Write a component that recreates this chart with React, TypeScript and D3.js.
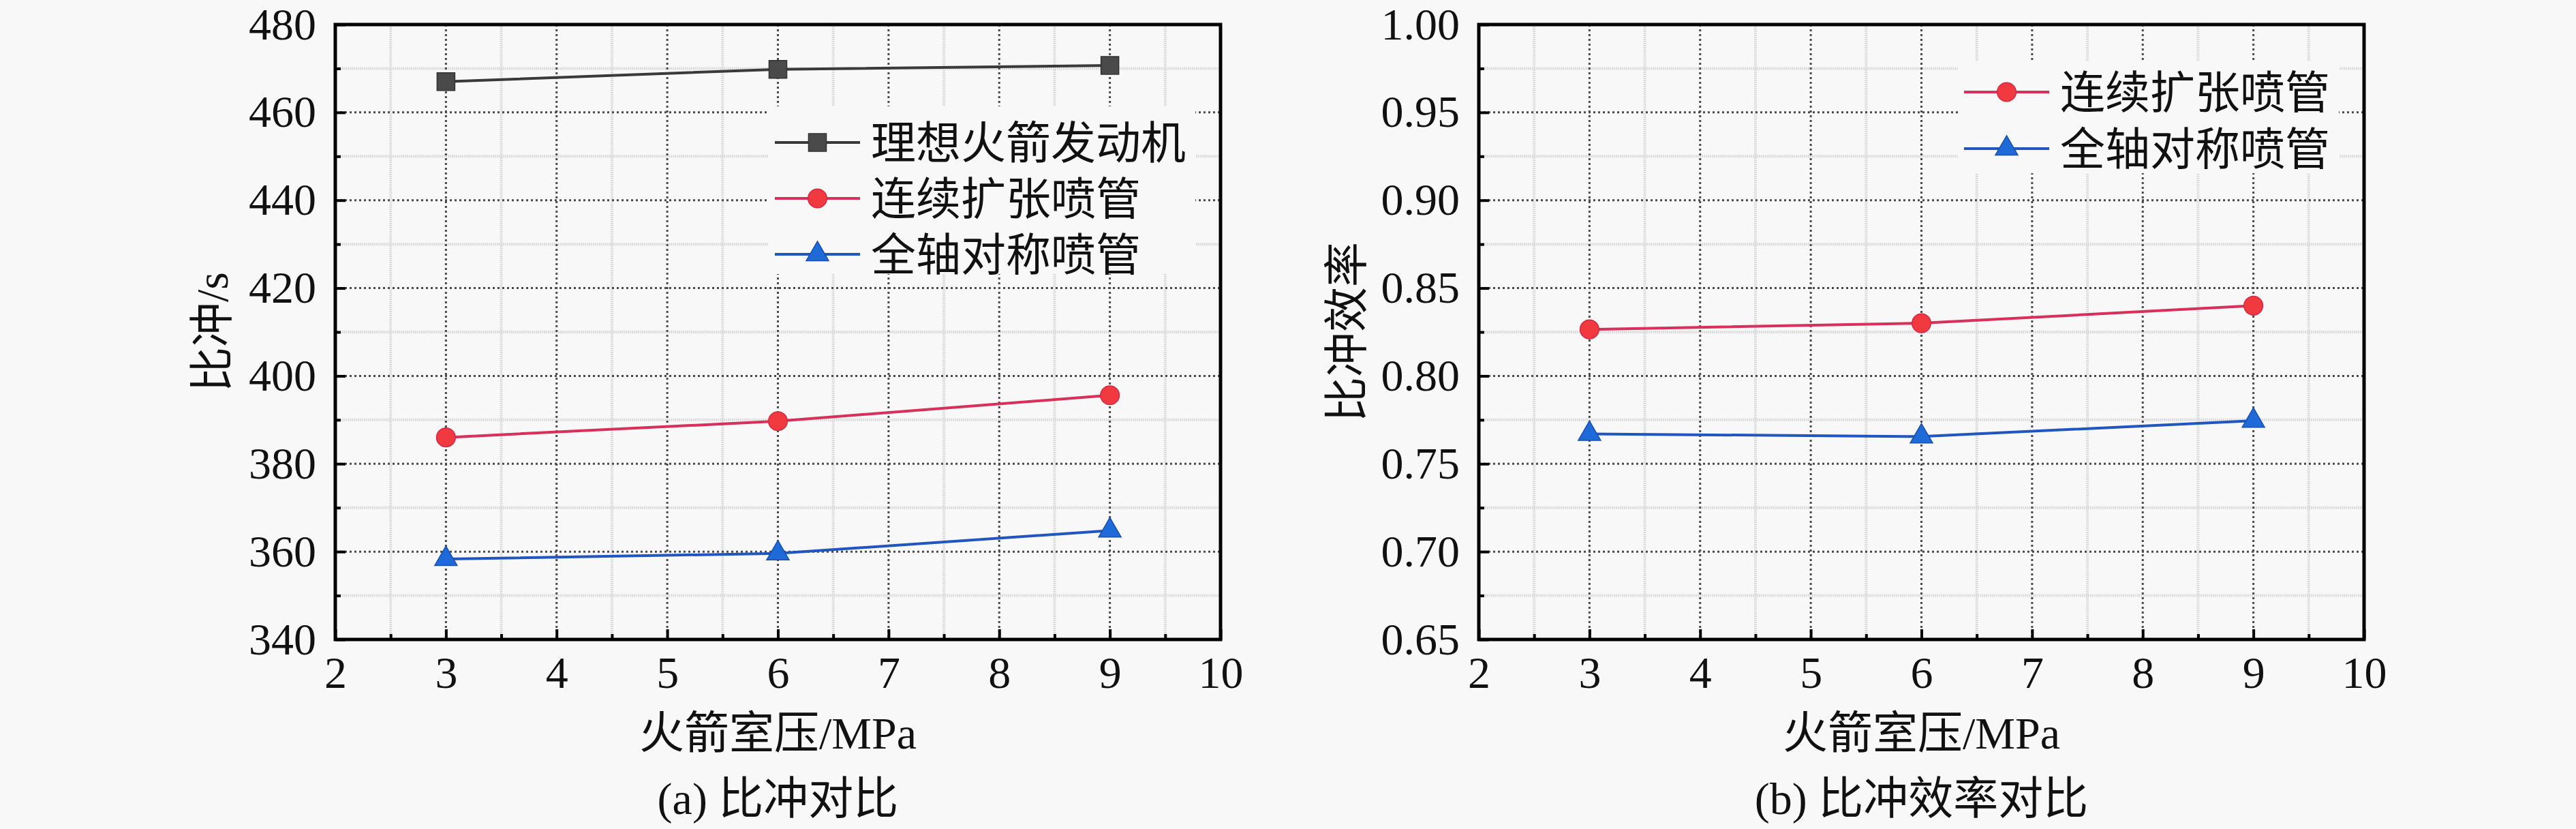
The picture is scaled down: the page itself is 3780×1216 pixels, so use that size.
import { useEffect, useRef } from "react";
import * as d3 from "d3";

const W = 3780;
const H = 1216;

// chamber pressure, MPa
const pressure = [3, 6, 9];

// (a) specific impulse, s
const idealIsp = [467.0, 469.8, 470.7];
const contIsp = [386.0, 389.7, 395.6];
const axisymIsp = [358.3, 359.6, 364.8];

// (b) specific impulse efficiency
const contEff = [0.8265, 0.83, 0.84];
const axisymEff = [0.767, 0.7655, 0.7745];

const xTicks = [2, 3, 4, 5, 6, 7, 8, 9, 10];
const xMinor = [2.5, 3.5, 4.5, 5.5, 6.5, 7.5, 8.5, 9.5];
const ispTicks = [340, 360, 380, 400, 420, 440, 460, 480];
const ispMinor = [350, 370, 390, 410, 430, 450, 470];
const effTicks = [0.65, 0.7, 0.75, 0.8, 0.85, 0.9, 0.95, 1.0];
const effMinor = [0.675, 0.725, 0.775, 0.825, 0.875, 0.925, 0.975];

const SERIES = {
  ideal: { name: "理想火箭发动机", line: "#3a3a3a", fill: "#4a4a4a", stroke: "#333333", shape: d3.symbolSquare, size: 680 },
  cont: { name: "连续扩张喷管", line: "#d8305a", fill: "#f03a40", stroke: "#d22a45", shape: d3.symbolCircle, size: 600 },
  axisym: { name: "全轴对称喷管", line: "#2155c0", fill: "#1e6ad8", stroke: "#1a4fb0", shape: d3.symbolTriangle, size: 470 },
};

const FONT = "'Liberation Serif', 'Times New Roman', 'Noto Sans CJK SC', serif";
const NUM_FONT = "'Liberation Serif', 'Times New Roman', serif";
const BG = "#f8f8f8";

type Panel = {
  left: number;
  right: number;
  yDomain: [number, number];
  yTicks: number[];
  yMinor: number[];
  yFormat: (v: number) => string;
  yTitle: string;
  yTitleX: number;
  caption: string;
  series: { key: keyof typeof SERIES; values: number[] }[];
  legend: { x0: number; y0: number; x1: number; y1: number; firstRow: number; rowGap: number };
};

const TOP = 36;
const BOTTOM = 938;

const panels: Panel[] = [
  {
    left: 492,
    right: 1791,
    yDomain: [340, 480],
    yTicks: ispTicks,
    yMinor: ispMinor,
    yFormat: d3.format("d"),
    yTitle: "比冲/s",
    yTitleX: 310,
    caption: "(a) 比冲对比",
    series: [
      { key: "ideal", values: idealIsp },
      { key: "cont", values: contIsp },
      { key: "axisym", values: axisymIsp },
    ],
    legend: { x0: 1128, y0: 156, x1: 1754, y1: 402, firstRow: 209, rowGap: 82 },
  },
  {
    left: 2170,
    right: 3469,
    yDomain: [0.65, 1.0],
    yTicks: effTicks,
    yMinor: effMinor,
    yFormat: d3.format(".2f"),
    yTitle: "比冲效率",
    yTitleX: 1975,
    caption: "(b) 比冲效率对比",
    series: [
      { key: "cont", values: contEff },
      { key: "axisym", values: axisymEff },
    ],
    legend: { x0: 2873, y0: 90, x1: 3432, y1: 254, firstRow: 135, rowGap: 83 },
  },
];

export default function App() {
  const svgRef = useRef<SVGSVGElement>(null);

  useEffect(() => {
    if (!svgRef.current) return;
    const svg = d3.select(svgRef.current);
    svg.selectAll("*").remove();

    svg.append("rect").attr("width", W).attr("height", H).attr("fill", BG);

    panels.forEach((p) => {
      const x = d3.scaleLinear().domain([2, 10]).range([p.left, p.right]);
      const y = d3.scaleLinear().domain(p.yDomain).range([BOTTOM, TOP]);
      const g = svg.append("g").style("font-family", FONT);

      // minor grid
      g.selectAll(".gx-minor")
        .data(xMinor)
        .join("line")
        .attr("x1", (d) => x(d))
        .attr("x2", (d) => x(d))
        .attr("y1", TOP)
        .attr("y2", BOTTOM)
        .attr("stroke", "#dcdcdc")
        .attr("stroke-width", 4)
        .attr("stroke-dasharray", "2,1");
      g.selectAll(".gy-minor")
        .data(p.yMinor)
        .join("line")
        .attr("x1", p.left)
        .attr("x2", p.right)
        .attr("y1", (d) => y(d))
        .attr("y2", (d) => y(d))
        .attr("stroke", "#dcdcdc")
        .attr("stroke-width", 4)
        .attr("stroke-dasharray", "2,1");

      // major grid
      g.selectAll(".gx-major")
        .data(xTicks.slice(1, -1))
        .join("line")
        .attr("x1", (d) => x(d))
        .attr("x2", (d) => x(d))
        .attr("y1", TOP)
        .attr("y2", BOTTOM)
        .attr("stroke", "#4a4a4a")
        .attr("stroke-width", 3)
        .attr("stroke-dasharray", "3,4");
      g.selectAll(".gy-major")
        .data(p.yTicks.slice(1, -1))
        .join("line")
        .attr("x1", p.left)
        .attr("x2", p.right)
        .attr("y1", (d) => y(d))
        .attr("y2", (d) => y(d))
        .attr("stroke", "#4a4a4a")
        .attr("stroke-width", 3)
        .attr("stroke-dasharray", "3,4");

      // legend background hides the grid behind it
      const lg = p.legend;
      g.append("rect")
        .attr("x", lg.x0)
        .attr("y", lg.y0)
        .attr("width", lg.x1 - lg.x0)
        .attr("height", lg.y1 - lg.y0)
        .attr("fill", BG);

      // series
      p.series.forEach((s, i) => {
        const st = SERIES[s.key];
        const pts = pressure.map((px, j) => [px, s.values[j]] as [number, number]);
        g.append("path")
          .attr("d", d3.line<[number, number]>().x((d) => x(d[0])).y((d) => y(d[1]))(pts))
          .attr("fill", "none")
          .attr("stroke", st.line)
          .attr("stroke-width", 4);
        g.selectAll(`.m-${s.key}`)
          .data(pts)
          .join("path")
          .attr("transform", (d) => `translate(${x(d[0])},${y(d[1])})`)
          .attr("d", d3.symbol(st.shape, st.size)())
          .attr("fill", st.fill)
          .attr("stroke", st.stroke)
          .attr("stroke-width", 1.5);

        // legend entry
        const ry = lg.firstRow + i * lg.rowGap;
        const lx0 = lg.x0 + 9;
        const lx1 = lx0 + 125;
        g.append("line")
          .attr("x1", lx0)
          .attr("x2", lx1)
          .attr("y1", ry)
          .attr("y2", ry)
          .attr("stroke", st.line)
          .attr("stroke-width", 4);
        g.append("path")
          .attr("transform", `translate(${(lx0 + lx1) / 2},${ry})`)
          .attr("d", d3.symbol(st.shape, st.size)())
          .attr("fill", st.fill)
          .attr("stroke", st.stroke)
          .attr("stroke-width", 1.5);
        g.append("text")
          .attr("x", lx1 + 16)
          .attr("y", ry)
          .attr("dy", "0.36em")
          .style("font-family", FONT)
          .style("font-size", "66px")
          .attr("fill", "#111")
          .text(st.name);
      });

      // axes with inward ticks
      const styleAxis = (sel: d3.Selection<SVGGElement, unknown, null, undefined>) => {
        sel.attr("font-family", null).attr("font-size", null);
        sel.select(".domain").remove();
        sel.selectAll("line").attr("stroke", "#000").attr("stroke-width", 4);
        sel
          .selectAll("text")
          .style("font-family", NUM_FONT)
          .style("font-size", "66px")
          .attr("fill", "#111");
      };

      g.append("g")
        .attr("transform", `translate(0,${BOTTOM})`)
        .call(d3.axisBottom(x).tickValues(xMinor).tickSize(-8).tickFormat(() => ""))
        .call(styleAxis);
      g.append("g")
        .attr("transform", `translate(0,${BOTTOM})`)
        .call(d3.axisBottom(x).tickValues(xTicks).tickSize(-15).tickPadding(24).tickFormat(d3.format("d")))
        .call(styleAxis);
      g.append("g")
        .attr("transform", `translate(${p.left},0)`)
        .call(d3.axisLeft(y).tickValues(p.yMinor).tickSize(-8).tickFormat(() => ""))
        .call(styleAxis);
      g.append("g")
        .attr("transform", `translate(${p.left},0)`)
        .call(d3.axisLeft(y).tickValues(p.yTicks).tickSize(-15).tickPadding(28).tickFormat((d) => p.yFormat(d as number)))
        .call(styleAxis);

      // frame
      g.append("rect")
        .attr("x", p.left)
        .attr("y", TOP)
        .attr("width", p.right - p.left)
        .attr("height", BOTTOM - TOP)
        .attr("fill", "none")
        .attr("stroke", "#000")
        .attr("stroke-width", 5);

      const cx = (p.left + p.right) / 2;
      const label = (sel: d3.Selection<SVGTextElement, unknown, null, undefined>) =>
        sel.style("font-family", FONT).style("font-size", "66px").attr("fill", "#111");
      g.append("text")
        .attr("x", cx)
        .attr("y", 1098)
        .attr("text-anchor", "middle")
        .call(label)
        .text("火箭室压/MPa");
      g.append("text")
        .attr("x", cx)
        .attr("y", 1194)
        .attr("text-anchor", "middle")
        .call(label)
        .text(p.caption);
      g.append("text")
        .attr("transform", `translate(${p.yTitleX},${(TOP + BOTTOM) / 2}) rotate(-90)`)
        .attr("text-anchor", "middle")
        .attr("dy", "0.36em")
        .call(label)
        .text(p.yTitle);
    });
  }, []);

  return (
    <svg
      ref={svgRef}
      width={W}
      height={H}
      style={{ position: "absolute", left: 0, top: 0, display: "block" }}
    />
  );
}
